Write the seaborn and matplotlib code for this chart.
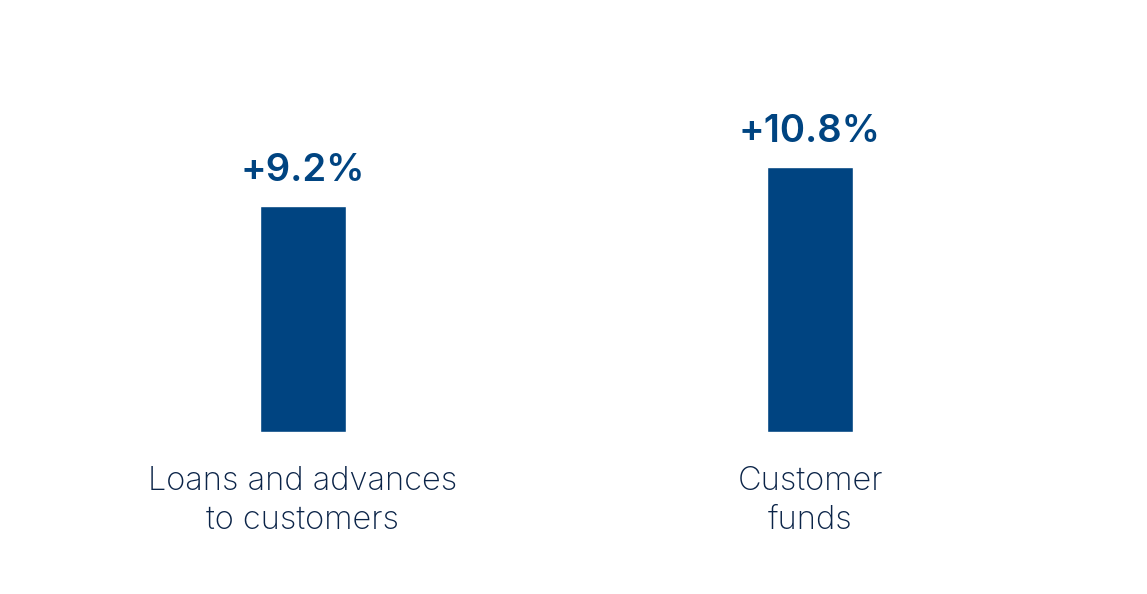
import matplotlib
matplotlib.use("Agg")
import matplotlib.pyplot as plt
import seaborn as sns
import pandas as pd

categories = ["Loans and advances\nto customers", "Customer\nfunds"]
values = [9.2, 10.8]
value_labels = ["+9.2%", "+10.8%"]

sns.set_theme(style="white")
plt.rcParams["font.family"] = ["Inter", "DejaVu Sans"]

df = pd.DataFrame({"cat": categories, "val": values})

fig = plt.figure(figsize=(11.47, 5.94), dpi=100)
ax = fig.add_axes([0, 162/594, 1, 432/594])
sns.barplot(data=df, x="cat", y="val", color="#004481", saturation=1, width=0.17, ax=ax)
ax.set_xlim(-303/507, (1147-303)/507)
ax.set_ylim(0, 432/265*10.8)
for i, (v, lab) in enumerate(zip(values, value_labels)):
    ax.annotate(lab, (i, v), xytext=(0, 17), textcoords="offset pixels",
                ha="center", va="bottom", fontsize=27.5, fontweight="semibold", color="#004481")
for i, c in enumerate(categories):
    ax.annotate(c, (i, 0), xytext=(0, -34), textcoords="offset pixels",
                ha="center", va="top", fontsize=23.5, fontweight="light", color="#0b2448",
                linespacing=1.32, annotation_clip=False)
ax.set_xticks([])
ax.set_yticks([])
ax.set_xlabel("")
ax.set_ylabel("")
for s in ax.spines.values():
    s.set_visible(False)
fig.savefig("out.png", dpi=100)
